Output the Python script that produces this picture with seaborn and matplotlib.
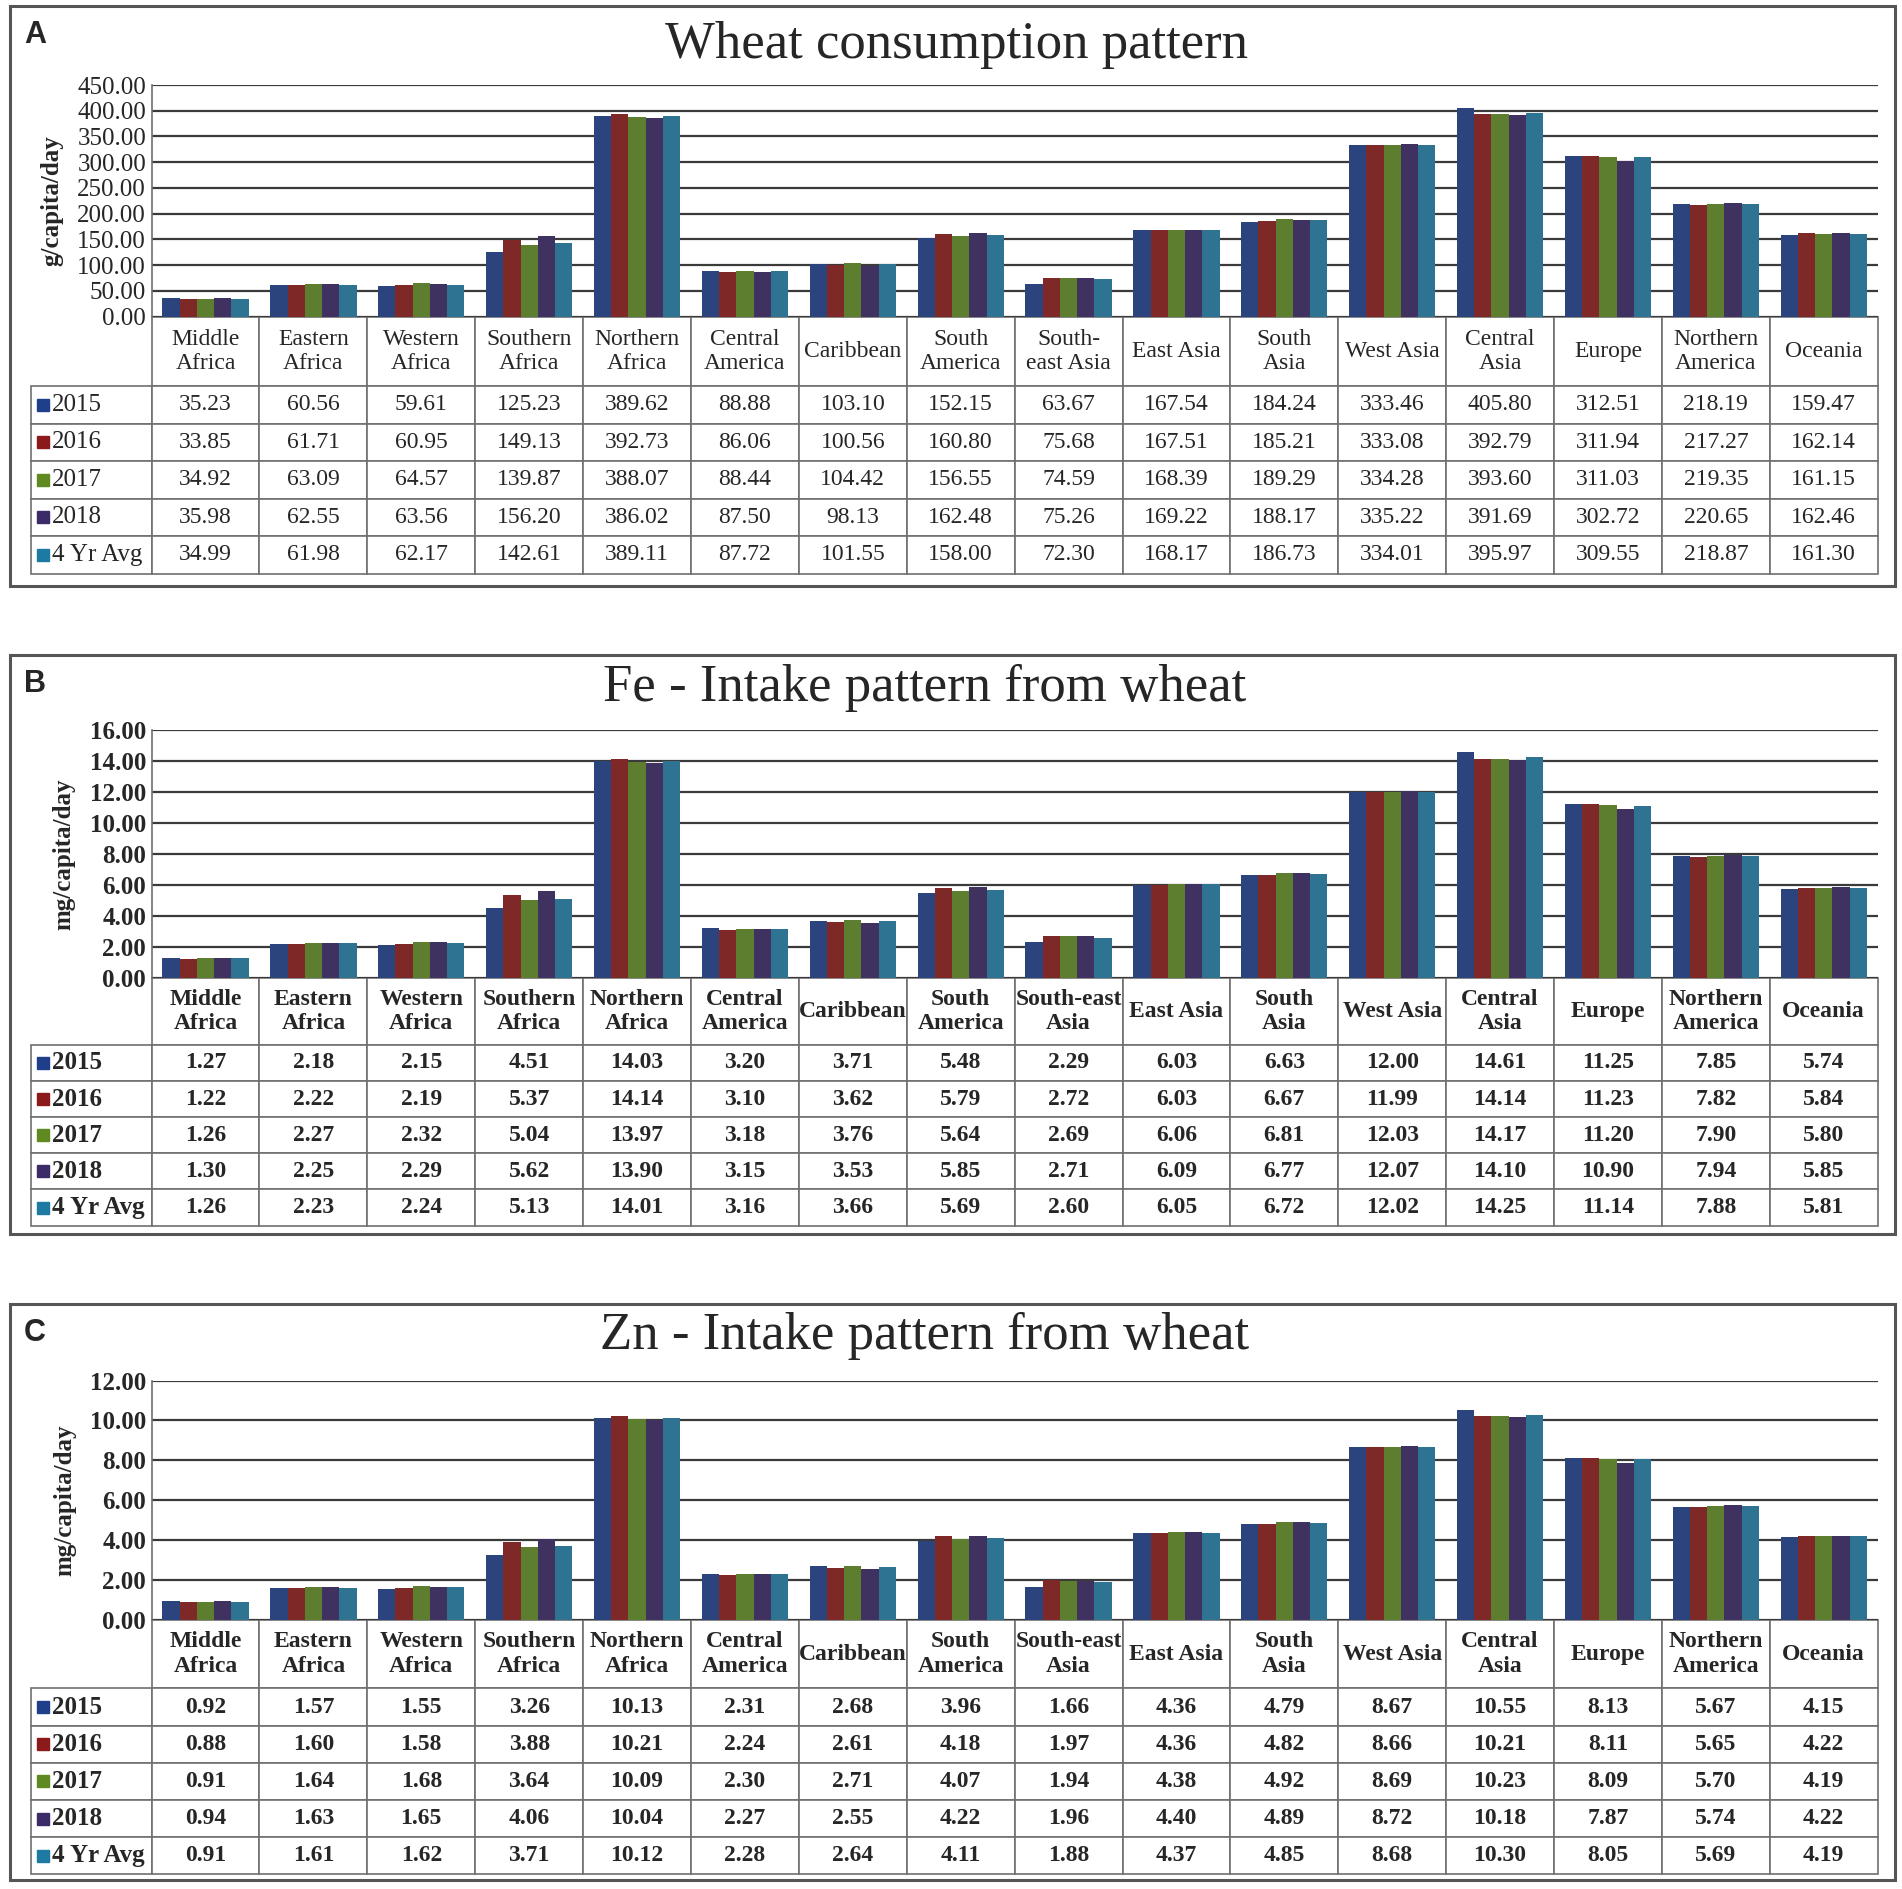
import numpy as np
import pandas as pd
import matplotlib
matplotlib.use("Agg")
import matplotlib.pyplot as plt
from matplotlib.patches import Rectangle
import seaborn as sns

sns.set_theme(style="white")
plt.rcParams['font.family'] = ['Liberation Serif', 'DejaVu Serif']

regions = ['Middle Africa', 'Eastern Africa', 'Western Africa', 'Southern Africa',
           'Northern Africa', 'Central America', 'Caribbean', 'South America',
           'South-east Asia', 'East Asia', 'South Asia', 'West Asia',
           'Central Asia', 'Europe', 'Northern America', 'Oceania']
header_a = ['Middle\nAfrica', 'Eastern\nAfrica', 'Western\nAfrica', 'Southern\nAfrica',
            'Northern\nAfrica', 'Central\nAmerica', 'Caribbean', 'South\nAmerica',
            'South-\neast Asia', 'East Asia', 'South\nAsia', 'West Asia',
            'Central\nAsia', 'Europe', 'Northern\nAmerica', 'Oceania']
header_bc = ['Middle\nAfrica', 'Eastern\nAfrica', 'Western\nAfrica', 'Southern\nAfrica',
             'Northern\nAfrica', 'Central\nAmerica', 'Caribbean', 'South\nAmerica',
             'South-east\nAsia', 'East Asia', 'South\nAsia', 'West Asia',
             'Central\nAsia', 'Europe', 'Northern\nAmerica', 'Oceania']
series = ['2015', '2016', '2017', '2018', '4 Yr Avg']
colors = ['#1f3f8a', '#8c1a1a', '#5f8a22', '#3d2a68', '#1d7ba3']

# wheat consumption, g/capita/day
wheat_2015 = [35.23, 60.56, 59.61, 125.23, 389.62, 88.88, 103.10, 152.15, 63.67, 167.54, 184.24, 333.46, 405.80, 312.51, 218.19, 159.47]
wheat_2016 = [33.85, 61.71, 60.95, 149.13, 392.73, 86.06, 100.56, 160.80, 75.68, 167.51, 185.21, 333.08, 392.79, 311.94, 217.27, 162.14]
wheat_2017 = [34.92, 63.09, 64.57, 139.87, 388.07, 88.44, 104.42, 156.55, 74.59, 168.39, 189.29, 334.28, 393.60, 311.03, 219.35, 161.15]
wheat_2018 = [35.98, 62.55, 63.56, 156.20, 386.02, 87.50, 98.13, 162.48, 75.26, 169.22, 188.17, 335.22, 391.69, 302.72, 220.65, 162.46]
wheat_avg = [34.99, 61.98, 62.17, 142.61, 389.11, 87.72, 101.55, 158.00, 72.30, 168.17, 186.73, 334.01, 395.97, 309.55, 218.87, 161.30]

# Fe intake, mg/capita/day
fe_2015 = [1.27, 2.18, 2.15, 4.51, 14.03, 3.20, 3.71, 5.48, 2.29, 6.03, 6.63, 12.00, 14.61, 11.25, 7.85, 5.74]
fe_2016 = [1.22, 2.22, 2.19, 5.37, 14.14, 3.10, 3.62, 5.79, 2.72, 6.03, 6.67, 11.99, 14.14, 11.23, 7.82, 5.84]
fe_2017 = [1.26, 2.27, 2.32, 5.04, 13.97, 3.18, 3.76, 5.64, 2.69, 6.06, 6.81, 12.03, 14.17, 11.20, 7.90, 5.80]
fe_2018 = [1.30, 2.25, 2.29, 5.62, 13.90, 3.15, 3.53, 5.85, 2.71, 6.09, 6.77, 12.07, 14.10, 10.90, 7.94, 5.85]
fe_avg = [1.26, 2.23, 2.24, 5.13, 14.01, 3.16, 3.66, 5.69, 2.60, 6.05, 6.72, 12.02, 14.25, 11.14, 7.88, 5.81]

# Zn intake, mg/capita/day
zn_2015 = [0.92, 1.57, 1.55, 3.26, 10.13, 2.31, 2.68, 3.96, 1.66, 4.36, 4.79, 8.67, 10.55, 8.13, 5.67, 4.15]
zn_2016 = [0.88, 1.60, 1.58, 3.88, 10.21, 2.24, 2.61, 4.18, 1.97, 4.36, 4.82, 8.66, 10.21, 8.11, 5.65, 4.22]
zn_2017 = [0.91, 1.64, 1.68, 3.64, 10.09, 2.30, 2.71, 4.07, 1.94, 4.38, 4.92, 8.69, 10.23, 8.09, 5.70, 4.19]
zn_2018 = [0.94, 1.63, 1.65, 4.06, 10.04, 2.27, 2.55, 4.22, 1.96, 4.40, 4.89, 8.72, 10.18, 7.87, 5.74, 4.22]
zn_avg = [0.91, 1.61, 1.62, 3.71, 10.12, 2.28, 2.64, 4.11, 1.88, 4.37, 4.85, 8.68, 10.30, 8.05, 5.69, 4.19]

panels = [
    dict(letter='A', title='Wheat consumption pattern', ylabel='g/capita/day',
         data=[wheat_2015, wheat_2016, wheat_2017, wheat_2018, wheat_avg],
         header=header_a, ymax=450, step=50, bold=False,
         box=(0.0051, 0.6898, 0.9911, 0.3070), ax=(0.0797, 0.8324, 0.9075, 0.1226),
         tab_h=1.110, title_xy=(0.503, 0.9762)),
    dict(letter='B', title='Fe - Intake pattern from wheat', ylabel='mg/capita/day',
         data=[fe_2015, fe_2016, fe_2017, fe_2018, fe_avg],
         header=header_bc, ymax=16, step=2, bold=True,
         box=(0.0051, 0.3468, 0.9911, 0.3064), ax=(0.0797, 0.4823, 0.9075, 0.1311),
         tab_h=1.0, title_xy=(0.486, 0.6358)),
    dict(letter='C', title='Zn - Intake pattern from wheat', ylabel='mg/capita/day',
         data=[zn_2015, zn_2016, zn_2017, zn_2018, zn_avg],
         header=header_bc, ymax=12, step=2, bold=True,
         box=(0.0051, 0.0045, 0.9911, 0.3051), ax=(0.0797, 0.1426, 0.9075, 0.1265),
         tab_h=1.066, title_xy=(0.486, 0.2929)),
]

fig = plt.figure(figsize=(19.02, 18.89), dpi=100)
tables = []
row_w = 0.0697

for p in panels:
    bx, by, bw, bh = p['box']
    fig.patches.append(Rectangle((bx, by), bw, bh, transform=fig.transFigure,
                                 fill=False, edgecolor='#555555', linewidth=2.2))
    fig.text(bx + 0.0075, by + bh - 0.0155, p['letter'], family='Liberation Sans',
             fontsize=22, fontweight='bold', va='center', ha='left')
    fig.text(p['title_xy'][0], p['title_xy'][1], p['title'], fontsize=38,
             ha='center', va='center')

    ax = fig.add_axes(p['ax'])
    df = pd.DataFrame({
        'Region': np.tile(regions, len(series)),
        'Series': np.repeat(series, len(regions)),
        'Value': np.concatenate(p['data']),
    })
    sns.barplot(data=df, x='Region', y='Value', hue='Series', palette=colors,
                order=regions, hue_order=series, width=0.8, gap=0,
                errorbar=None, legend=False, linewidth=0, ax=ax, zorder=3)

    weight = 'bold' if p['bold'] else 'normal'
    ax.set_xlim(-0.5, len(regions) - 0.5)
    ax.set_ylim(0, p['ymax'])
    ax.set_yticks(np.arange(0, p['ymax'] + 0.001, p['step']))
    ax.set_yticklabels([f"{t:.2f}" for t in ax.get_yticks()], fontsize=18, fontweight=weight)
    ax.tick_params(axis='y', length=0, pad=4)
    ax.set_xticks([])
    ax.set_xlabel('')
    ax.set_ylabel(p['ylabel'], fontsize=18, fontweight='bold', labelpad=10)
    ax.yaxis.grid(True, color='#3a3a3a', linewidth=1.6, zorder=0)
    ax.set_axisbelow(True)
    for s in ['top', 'right', 'bottom']:
        ax.spines[s].set_visible(False)
    ax.spines['left'].set_color('#6f6f6f')
    ax.spines['left'].set_linewidth(1.2)

    # data table under the bars; the bbox covers the data columns only,
    # the row-label column hangs to the left of the axes
    cell_text = [[f"{v:.2f}" for v in row] for row in p['data']]
    col_w = 1.0 / len(regions)
    tab = ax.table(cellText=cell_text, colLabels=p['header'], cellLoc='center',
                   colWidths=[col_w] * len(regions),
                   bbox=[0, -p['tab_h'], 1.0, p['tab_h']])
    h_row = tab[1, 0].get_height()
    for i in range(len(series)):
        tab.add_cell(i + 1, -1, width=row_w, height=h_row, text='')
    tab.auto_set_font_size(False)
    tab.set_fontsize(17)
    for (r, c), cell in tab.get_celld().items():
        cell.set_edgecolor('#6f6f6f')
        cell.set_linewidth(1.2)
        cell.get_text().set_fontweight(weight)
        if r == 0:
            cell.set_height(h_row * 1.85)
    tables.append((ax, tab, weight))

fig.canvas.draw()

# legend keys inside the row-label cells
for ax, tab, weight in tables:
    cells = tab.get_celld()
    for i, name in enumerate(series):
        cell = cells[(i + 1, -1)]
        x0, y0 = cell.get_x(), cell.get_y()
        h = cell.get_height()
        ax.plot([x0 + 0.0065], [y0 + h * 0.5], marker='s', markersize=9,
                color=colors[i], transform=ax.transAxes, clip_on=False)
        ax.text(x0 + 0.0118, y0 + h * 0.5, name, transform=ax.transAxes,
                fontsize=18, fontweight=weight, ha='left', va='center')

fig.savefig('out.png', dpi=100, facecolor='white')
